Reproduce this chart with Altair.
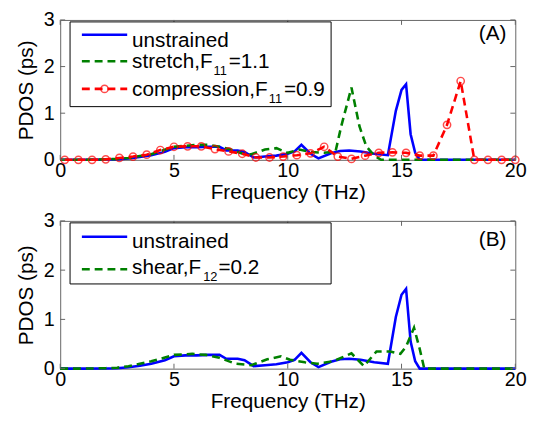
import altair as alt
import pandas as pd

FONT = "Liberation Sans"

# ---------------- data ----------------
freq_unstrained = [0, 1, 2, 2.5, 3, 3.5, 4, 4.6, 5, 5.5, 6, 6.5, 7, 7.3, 7.8, 8.1, 8.5, 9, 9.5, 10,
                   10.3, 10.6, 11, 11.35, 11.9, 12.3, 12.7, 13.2, 13.8, 14.4, 14.75, 15.0, 15.2, 15.4,
                   15.6, 15.8, 16, 17, 18, 19, 20]
pdos_unstrained = [0, 0, 0.005, 0.01, 0.03, 0.06, 0.1, 0.17, 0.25, 0.27, 0.27, 0.28, 0.28, 0.2, 0.2,
                   0.17, 0.05, 0.07, 0.09, 0.13, 0.18, 0.32, 0.13, 0.03, 0.14, 0.19, 0.2, 0.18, 0.13,
                   0.1, 1.05, 1.5, 1.62, 0.55, 0.15, 0.0, 0, 0, 0, 0, 0]

freq_stretch = [0, 1, 2, 2.5, 3, 3.5, 4, 4.5, 5, 5.5, 6, 6.5, 7, 7.5, 8.1, 8.4, 9.0, 9.5, 10.0, 10.5,
                11.0, 11.6, 12.1, 12.35, 12.8, 13.15, 13.45, 13.8, 14.1, 15, 16, 17, 18, 19, 20]
pdos_stretch = [0, 0, 0.01, 0.02, 0.04, 0.08, 0.12, 0.2, 0.28, 0.3, 0.32, 0.32, 0.28, 0.22, 0.12, 0.12,
                0.22, 0.25, 0.15, 0.22, 0.17, 0.15, 0.18, 0.72, 1.55, 0.72, 0.29, 0.09, 0.0, 0, 0, 0,
                0, 0, 0]

freq_compression = [0.2, 0.8, 1.4, 2.0, 2.6, 3.2, 3.8, 4.4, 5.0, 5.6, 6.2, 6.8, 7.4, 8.0, 8.6, 9.2,
                    9.8, 10.4, 11.0, 11.6, 12.2, 12.8, 13.4, 14.0, 14.6, 15.2, 15.8, 16.4, 17.0, 17.6,
                    18.2, 18.8, 19.4, 20.0]
pdos_compression = [0, 0, 0, 0.01, 0.04, 0.07, 0.11, 0.21, 0.28, 0.29, 0.29, 0.23, 0.18, 0.13, 0.05,
                    0.05, 0.07, 0.1, 0.14, 0.28, 0.07, 0.02, 0.09, 0.15, 0.16, 0.15, 0.09, 0.09, 0.75,
                    1.69, 0, 0, 0, 0]

freq_shear = [0, 1, 2, 2.5, 3, 3.5, 4, 4.4, 5, 5.8, 6.4, 7.0, 7.7, 8.4, 9.1, 9.7, 10.1, 10.75, 11.3,
              12.0, 12.8, 13.35, 13.9, 14.5, 14.95, 15.2, 15.55, 15.8, 16.0, 17, 18, 19, 20]
pdos_shear = [0, 0, 0.01, 0.02, 0.05, 0.1, 0.15, 0.2, 0.28, 0.3, 0.28, 0.22, 0.1, 0.07, 0.19, 0.25,
              0.18, 0.13, 0.1, 0.15, 0.31, 0.05, 0.35, 0.35, 0.3, 0.45, 0.83, 0.4, 0.0, 0, 0, 0, 0]

x_ticks = [0, 5, 10, 15, 20]
y_ticks = [0, 1, 2, 3]

# ---------------- styling ----------------
W = 462
H_A, H_B = 142, 150
BLUE, GREEN, RED = "#0000ff", "#008000", "#ff0000"
FRAME = "#666666"
FS = 21
LFS = 20
SUB_FS = 13
DASH = [8, 5]

ARIAL = {'s': 500, 't': 278, 'r': 333, 'e': 556, 'c': 500, 'h': 556, ',': 278, 'F': 611, 'o': 556,
         'm': 833, 'p': 556, 'i': 222, 'n': 556, 'a': 556, '1': 556, '2': 556, '0': 556, '9': 556,
         '.': 278, '=': 584, 'u': 556, 'd': 556}


def tw(s, size):
    return sum(ARIAL[c] for c in s) * size / 1000.0


xs = alt.Scale(domain=[0, 20], nice=False, zero=False)
ys = alt.Scale(domain=[0, 3], nice=False, zero=False)
X_AX = alt.Axis(values=x_ticks, format="d", title="Frequency (THz)", labelPadding=1, titlePadding=1,
                labelFlush=False, labelOverlap=False)
Y_AX = alt.Axis(values=y_ticks, format="d", title="PDOS (ps)", labelPadding=6, titlePadding=7,
                labelOverlap=False)
one = pd.DataFrame({"k": [0]})


def X(field):
    return alt.X(field, scale=xs, axis=X_AX)


def Y(field):
    return alt.Y(field, scale=ys, axis=Y_AX)


def series(xv, yv, color, dash=None):
    df = pd.DataFrame({"f": xv, "p": yv})
    kw = dict(color=color, strokeWidth=2.6, clip=False)
    if dash:
        kw["strokeDash"] = dash
    return alt.Chart(df).mark_line(**kw).encode(x=X("f:Q"), y=Y("p:Q"))


def markers(xv, yv, color):
    df = pd.DataFrame({"f": xv, "p": yv})
    return alt.Chart(df).mark_point(shape="circle", filled=False, color=color, size=55,
                                    strokeWidth=1.5, clip=False).encode(x=X("f:Q"), y=Y("p:Q"))


def inner_ticks(H):
    xt = pd.DataFrame({"f": x_ticks})
    yt = pd.DataFrame({"p": y_ticks})
    r = dict(color=FRAME, strokeWidth=1)
    b = alt.Chart(xt).mark_rule(**r).encode(x=X("f:Q"), y=alt.value(H), y2=alt.value(H - 5))
    t = alt.Chart(xt).mark_rule(**r).encode(x=X("f:Q"), y=alt.value(0), y2=alt.value(5))
    l = alt.Chart(yt).mark_rule(**r).encode(y=Y("p:Q"), x=alt.value(0), x2=alt.value(5))
    rr = alt.Chart(yt).mark_rule(**r).encode(y=Y("p:Q"), x=alt.value(W - 5), x2=alt.value(W))
    return [b, t, l, rr]


def text_at(s, x, y, size=FS, align="left"):
    return alt.Chart(one).mark_text(align=align, baseline="alphabetic", font=FONT, fontSize=size,
                                    color="black").encode(x=alt.value(x), y=alt.value(y),
                                                          text=alt.value(s))


def legend(box, rows):
    x0, y0, x1, y1 = box
    layers = [alt.Chart(one).mark_rect(fill="white", stroke="black", strokeWidth=1).encode(
        x=alt.value(x0), x2=alt.value(x1), y=alt.value(y0), y2=alt.value(y1))]
    lx0, lx1, tx = 22, 68, 73
    for (color, dash, mark, ly, parts, base) in rows:
        kw = dict(color=color, strokeWidth=2.6)
        if dash:
            kw["strokeDash"] = dash
        layers.append(alt.Chart(one).mark_rule(**kw).encode(
            x=alt.value(lx0), x2=alt.value(lx1), y=alt.value(ly)))
        if mark:
            layers.append(alt.Chart(one).mark_point(shape="circle", filled=False, color=color,
                                                    size=55, strokeWidth=1.5).encode(
                x=alt.value((lx0 + lx1) / 2), y=alt.value(ly)))
        cx = tx
        for (s, sub) in parts:
            if sub:
                layers.append(text_at(s, cx + 1, base + 7, SUB_FS))
                cx += tw(s, SUB_FS) + 2
            else:
                layers.append(text_at(s, cx, base, FS))
                cx += tw(s, FS)
    return layers


legend_a = legend((10, 2, 275, 88), [
    (BLUE, None, False, 15, [("unstrained", False)], 27),
    (GREEN, DASH, False, 42, [("stretch,F", False), ("11", True), ("=1.1", False)], 48.5),
    (RED, DASH, True, 70, [("compression,F", False), ("11", True), ("=0.9", False)], 77.5),
])
legend_b = legend((10, 2, 275, 64), [
    (BLUE, None, False, 16, [("unstrained", False)], 28),
    (GREEN, DASH, False, 49, [("shear,F", False), ("12", True), ("=0.2", False)], 54),
])

panel_a = alt.layer(
    series(freq_unstrained, pdos_unstrained, BLUE),
    series(freq_stretch, pdos_stretch, GREEN, DASH),
    series(freq_compression, pdos_compression, RED, DASH),
    markers(freq_compression, pdos_compression, RED),
    *inner_ticks(H_A),
    *legend_a,
    text_at("(A)", 453, 20, FS, "right"),
).properties(width=W, height=H_A)

panel_b = alt.layer(
    series(freq_unstrained, pdos_unstrained, BLUE),
    series(freq_shear, pdos_shear, GREEN, DASH),
    *inner_ticks(H_B),
    *legend_b,
    text_at("(B)", 453, 25, FS, "right"),
).properties(width=W, height=H_B)

chart = alt.vconcat(panel_a, panel_b, spacing=7).properties(
    padding={"left": 7, "top": -2, "right": 8, "bottom": 5}
).configure_view(stroke=FRAME, strokeWidth=1).configure_axis(
    labelFont=FONT, labelFontSize=LFS, labelColor="black", titleFont=FONT, titleFontSize=FS,
    titleFontWeight="normal", titleColor="black", grid=False, domain=False, ticks=False, tickSize=0
)

chart.save("out.html", embed_options={"renderer": "svg", "actions": False})
